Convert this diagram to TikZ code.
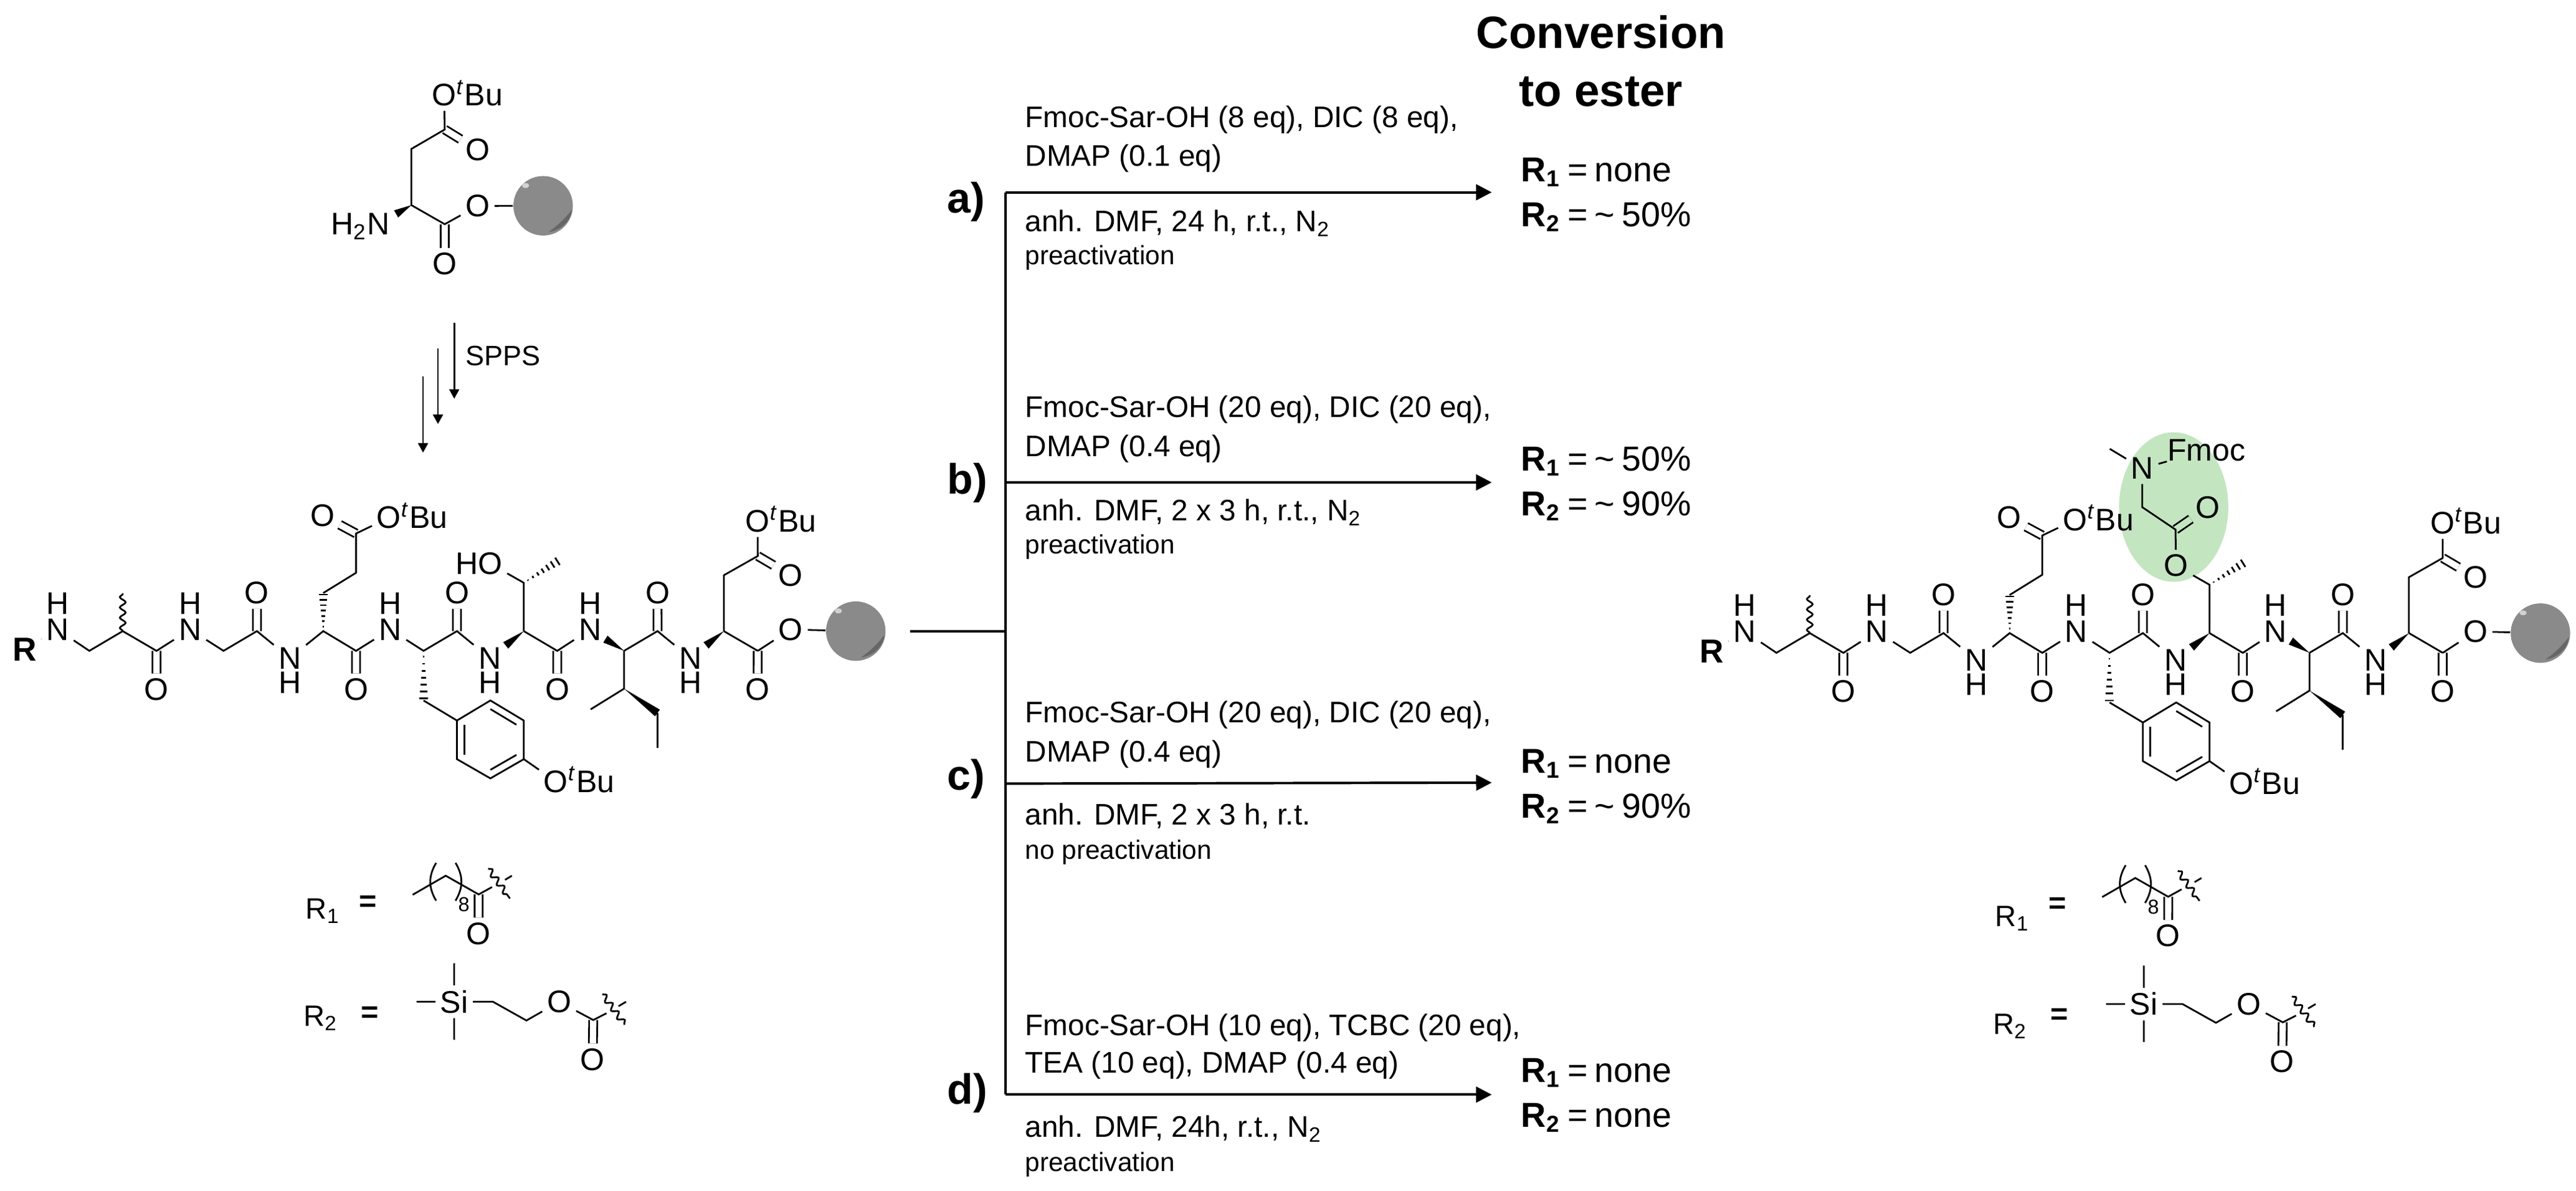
\documentclass[tikz,border=0pt]{standalone}
\usepackage{fontspec}
\setmainfont{Liberation Sans}
\usetikzlibrary{calc}
\usetikzlibrary{arrows.meta}
\usetikzlibrary{decorations.pathmorphing}
\usetikzlibrary{shapes.geometric}
\definecolor{sargreen}{HTML}{C3E6C1}
\definecolor{beadgray}{HTML}{8A8A8A}
\definecolor{beaddark}{HTML}{666666}
\tikzset{
	bond/.style={
		line width=.6pt,
	},
	dbl/.style={
		line width=.6pt,
		double,
		double distance=2.2pt,
	},
	dblgreen/.style={
		dbl,
		double=sargreen,
	},
	wavy/.style={
		bond,
		decorate,
		decoration={snake,amplitude=.35mm,segment length=1.25mm},
	},
	atom/.style={
		inner sep=1.5pt,
		font=\fontsize{10.8}{12}\selectfont,
	},
	resin/.style={
		circle,
		inner sep=0pt,
		minimum size=.724cm,
		fill=beadgray,
	},
	highlight/.style={
		ellipse,
		inner sep=0pt,
		minimum width=1.33cm,
		minimum height=1.82cm,
		fill=sargreen,
	},
	cond/.style={
		anchor=base west,
		inner sep=0pt,
		font=\fontsize{10.3}{12}\selectfont,
	},
	note/.style={
		cond,
		font=\fontsize{9.15}{11}\selectfont,
	},
	yield/.style={
		cond,
		font=\fontsize{12}{14}\selectfont,
	},
	letter/.style={
		cond,
		font=\bfseries\fontsize{14.7}{16}\selectfont,
	},
	heading/.style={
		anchor=base,
		inner sep=0pt,
		font=\bfseries\fontsize{15.7}{18}\selectfont,
	},
	rlabel/.style={
		cond,
		font=\fontsize{10.2}{12}\selectfont,
	},
	rxn/.style={
		line width=.85pt,
		-{Triangle[length=1.9mm,width=1.9mm]},
	},
	spps/.style={
		line width=.6pt,
		-{Triangle[length=1.15mm,width=1.2mm]},
	},
}
\newcommand{\tbu}{\smash{\rlap{\textsuperscript{\textit{t}}Bu}}}
\newcommand{\yld}[2]{\textbf{R\textsubscript{#1}}\hspace{.2em}=\hspace{.2em}#2}
\newcommand{\about}[1]{\textasciitilde\hspace{.2em}#1\%}
\newcommand{\wedgebond}[3]{
	\coordinate (wtmp) at ($(#1)!#3!(#2)$);
	\fill ($(wtmp)!.05cm!90:(#1)$) -- (#1) -- ($(wtmp)!.05cm!-90:(#1)$) -- cycle;
}
\newcommand{\hashbond}[2]{
	\foreach \t in {.12,.26,.4,.54,.68,.82,.96}{
		\draw[bond] ($(#1)!\t!(#2)!\t*.055cm!90:(#2)$) -- ($(#1)!\t!(#2)!\t*.055cm!-90:(#2)$);
	}
}
\newcommand{\bead}[2]{
	\node[resin] (#1) at (#2) {};
	\begin{scope}[shift={(#2)}]
		\fill[gray!35] (-10.7,-12.3) ellipse (2.2 and 1.5);
		\fill[beaddark] (3.2,16) .. controls (9,12) and (13,8) .. (17.5,2.5) .. controls (17,9) and (11,15) .. (3.2,16) -- cycle;
	\end{scope}
}
% #1 is the text of the threonine oxygen
\newcommand{\peptide}[1]{
	\coordinate (c1) at (54.8,396);
	\coordinate (c2) at (75.3,384);
	\coordinate (c3) at (96,396);
	\coordinate (c4) at (137.1,396);
	\coordinate (c5) at (157.6,384);
	\coordinate (c6) at (198.3,384);
	\coordinate (c7) at (218.4,396);
	\coordinate (c8) at (259.8,396);
	\coordinate (c9) at (280.3,384);
	\coordinate (c10) at (321.3,384);
	\coordinate (c11) at (341.8,396);
	\coordinate (c12) at (382.8,396);
	\coordinate (c13) at (403.3,384);
	\coordinate (c14) at (444,384);
	\coordinate (c15) at (464.8,396);

	\node[atom,font=\bfseries\fontsize{11.5}{12}\selectfont] (rest) at (15,395) {R};
	\foreach \i/\x in {1/35.3,2/116.6,4/239.3,6/362}{
		\node[atom] (n\i) at (\x,383) {N};
		\node[atom,inner sep=0pt] (h\i) at (\x,367) {H};
	}
	\foreach \i/\x in {3/177.8,5/300.4,7/423.5}{
		\node[atom] (n\i) at (\x,400.4) {N};
		\node[atom,inner sep=0pt] (h\i) at (\x,415.4) {H};
	}
	% amide carbonyls
	\foreach \i/\x in {3/96,7/218.4,11/341.8,15/464.8}{
		\node[atom] (o\i) at (\x,419.5) {O};
		\draw[dbl] (c\i) -- (o\i);
	}
	\foreach \i/\x in {5/157.6,9/280.3,13/403.3}{
		\node[atom] (o\i) at (\x,360.7) {O};
		\draw[dbl] (c\i) -- (o\i);
	}
	\draw[bond] (rest) -- (n1) -- (c1) -- (c2) -- (c3) -- (n2) -- (c4) -- (c5) -- (n3) -- (c6) -- (c7) -- (n4) -- (c8) -- (c9) -- (n5);
	\draw[bond] (c10) -- (c11) -- (n6);
	\draw[bond] (c12) -- (c13) -- (n7);
	\draw[bond] (c14) -- (c15);
	\wedgebond{c10}{n5}{.53}
	\wedgebond{c12}{n6}{.55}
	\wedgebond{c14}{n7}{.53}

	\coordinate (me1) at (75.3,361);
	\draw[wavy] (c2) -- (me1);

	% Glu
	\coordinate (e1) at (198.3,360.8);
	\coordinate (e2) at (218.4,348.5);
	\coordinate (e3) at (218.4,324.6);
	\node[atom] (eo1) at (197.9,313.7) {O};
	\node[atom] (eo2) at (238.6,315) {O\tbu};
	\hashbond{c6}{e1}
	\draw[dbl] (e3) -- (eo1);
	\draw[bond] (e1) -- (e2) -- (e3) -- (eo2);

	% Tyr
	\coordinate (t1) at (259.8,426.2);
	\coordinate (r1) at (280.3,438.4);
	\coordinate (r2) at (300.8,426.2);
	\coordinate (r3) at (321.3,438.4);
	\coordinate (r4) at (321.3,461.9);
	\coordinate (r5) at (300.8,473.6);
	\coordinate (r6) at (280.3,461.9);
	\coordinate (rc) at (300.8,450);
	\node[atom] (to) at (341,475.5) {O\tbu};
	\hashbond{c8}{t1}
	\draw[bond] (t1) -- (r1) -- (r2) -- (r3) -- (r4) -- (r5) -- (r6) -- (r1);
	\draw[bond] (r4) -- (to);
	\draw[bond] ($(rc)!.78!(r2)$) -- ($(rc)!.78!(r3)$);
	\draw[bond] ($(rc)!.78!(r4)$) -- ($(rc)!.78!(r5)$);
	\draw[bond] ($(rc)!.78!(r6)$) -- ($(rc)!.78!(r1)$);

	% Thr
	\coordinate (th) at (321.3,354.6);
	\coordinate (thme) at (342.8,341);
	\node[atom] (tho) at (300.7,343) {#1};
	\draw[bond] (c10) -- (th) -- (tho);
	\hashbond{th}{thme}

	% Ile
	\coordinate (i1) at (382.8,419);
	\coordinate (i2) at (362.3,431.6);
	\coordinate (i3) at (403.3,433.8);
	\coordinate (i4) at (403.3,455);
	\draw[bond] (c12) -- (i1) -- (i2);
	\draw[bond] (i3) -- (i4);
	\wedgebond{i1}{i3}{1}

	% Asp
	\coordinate (a1) at (444,350);
	\coordinate (a2) at (464.8,338.3);
	\node[atom] (ao1) at (464.8,317) {O\tbu};
	\node[atom] (ao2) at (484.9,350) {O};
	\draw[dbl] (a2) -- (ao2);
	\draw[bond] (c14) -- (a1) -- (a2) -- (ao1);

	\node[atom] (oe) at (485,383) {O};
	\bead{ball}{524.9,384}
	\draw[bond] (c15) -- (oe) -- (ball);
}
\newcommand{\rgroups}{
	\node[rlabel,anchor=center,font=\bfseries\fontsize{10.5}{12}\selectfont] (eq1) at (224.5,549.6) {=};
	\node[rlabel,anchor=center,font=\bfseries\fontsize{10.5}{12}\selectfont] (eq2) at (225.8,617.1) {=};

	% R1
	\coordinate (p1) at (251.9,544.4);
	\coordinate (p2) at (272.2,532.8);
	\coordinate (p3) at (292.4,544.2);
	\coordinate (p4) at (300.6,539.7);
	\node[atom] (po) at (292.4,568) {O};
	\node[atom,font=\fontsize{7}{8}\selectfont,inner sep=0pt] (rep) at (283.3,550.5) {8};
	\draw[dbl] (p3) -- (po);
	\draw[bond] (p1) -- (p2) -- (p3) -- (p4);
	\draw[bond] (266.3,525) .. controls (261.5,533) and (261.5,540) .. (266.3,548);
	\draw[bond] (278.2,525) .. controls (283,533) and (283,540) .. (278.2,548);
	\coordinate (w1) at (298.3,528.4);
	\coordinate (w2) at (311.6,546.7);
	\coordinate (w3) at (308.6,535.3);
	\coordinate (w4) at (312.8,532.8);
	\draw[wavy] (w1) -- (w2);
	\draw[bond] (w3) -- (w4);

	% R2
	\node[atom] (si) at (277.4,609.5) {Si};
	\coordinate (s1) at (277.4,586.1);
	\coordinate (s2) at (277.4,632.6);
	\coordinate (s3) at (254.3,609.5);
	\coordinate (s4) at (301.2,609.5);
	\coordinate (s5) at (321.7,620.9);
	\coordinate (s6) at (362.7,620.6);
	\coordinate (s7) at (370.8,616.5);
	\node[atom] (so1) at (341.8,609.5) {O};
	\node[atom] (so2) at (362.3,644.6) {O};
	\draw[dbl] (s6) -- (so2);
	\draw[bond] (s1) -- (si) -- (s2);
	\draw[bond] (s3) -- (si) -- (s4) -- (s5) -- (so1) -- (s6) -- (s7);
	\coordinate (w5) at (368.3,604.8);
	\coordinate (w6) at (382,623.4);
	\coordinate (w7) at (378.2,612.2);
	\coordinate (w8) at (382.8,609.5);
	\draw[wavy] (w5) -- (w6);
	\draw[bond] (w7) -- (w8);
}

\begin{document}
\begin{tikzpicture}[x=.02cm,y=-.02cm]
	\useasboundingbox (0,0) rectangle (1568,724.3);

	% resin-bound aspartate
	\coordinate (asp1) at (270.7,78.8);
	\coordinate (asp2) at (250.4,90.6);
	\coordinate (asp3) at (250.4,124.8);
	\coordinate (asp4) at (270.7,136.4);
	\node[atom] (aspo1) at (270.4,57.8) {O\tbu};
	\node[atom] (aspo2) at (290.7,91.1) {O};
	\node[atom] (aspo3) at (270.7,160.5) {O};
	\node[atom] (aspo4) at (290.7,125.3) {O};
	\node[atom] (aspn) at (230.2,136.4) {\smash{\llap{H\textsubscript{2}}}N};
	\draw[dbl] (asp1) -- (aspo2);
	\draw[dbl] (asp4) -- (aspo3);
	\draw[bond] (aspo1) -- (asp1) -- (asp2) -- (asp3) -- (asp4) -- (aspo4);
	\wedgebond{asp3}{aspn}{.46}
	\bead{aspball}{330.6,125.2}
	\draw[bond] (aspo4) -- (aspball);

	\foreach \i/\x/\ya/\yb in {1/276.5/196.4/242.6,2/266.6/212/258,3/257.5/228.9/275.4}{
		\coordinate (sppsa\i) at (\x,\ya);
		\coordinate (sppsb\i) at (\x,\yb);
		\draw[spps] (sppsa\i) -- (sppsb\i);
	}
	\node[rlabel,font=\fontsize{9.7}{11}\selectfont] (sppstext) at (283,222.5) {SPPS};

	% left peptide
	\begin{scope}[xscale=.9924,name prefix=l-]
		\peptide{\smash{\llap{H}}O}
	\end{scope}
	\begin{scope}[shift={(1.2,0)},xscale=.9924,name prefix=lr-]
		\rgroups
	\end{scope}
	\node[rlabel] (lr1) at (185.8,559.3) {R\textsubscript{1}};
	\node[rlabel] (lr2) at (184.4,624.4) {R\textsubscript{2}};

	% right peptide
	\node[highlight] (sarbg) at (1323.1,308.5) {};
	\begin{scope}[shift={(1027.1,1.2)},xscale=.9892,name prefix=p-]
		\peptide{O}
	\end{scope}
	\coordinate (sar1) at (1324.2,322.2);
	\coordinate (sar2) at (1304,308.6);
	\coordinate (sar3) at (1284.2,273.1);
	\node[atom] (saro) at (1343.9,308.6) {O};
	\node[atom] (sarn) at (1304,285) {N};
	\node[atom,inner sep=0pt] (fmoc) at (1343,274) {Fmoc};
	\draw[dblgreen] (sar1) -- (saro);
	\draw[bond] (p-tho) -- (sar1) -- (sar2) -- (sarn) -- (sar3);
	\draw[bond] (sarn) -- (fmoc);
	\begin{scope}[shift={(1029.6,1.4)},xscale=.9924,name prefix=q-]
		\rgroups
	\end{scope}
	\node[rlabel] (rr1) at (1214.2,563.7) {R\textsubscript{1}};
	\node[rlabel] (rr2) at (1212.8,629.4) {R\textsubscript{2}};

	% reaction fork
	\coordinate (start) at (554,384);
	\coordinate (fork) at (612,384);
	\coordinate (forka) at (612,117);
	\coordinate (forkb) at (612,293.5);
	\coordinate (forkc) at (612,476.8);
	\coordinate (forkd) at (612,666);
	\coordinate (enda) at (908,117);
	\coordinate (endb) at (908,293.5);
	\coordinate (endc) at (908,476.2);
	\coordinate (endd) at (908,666);
	\draw[line width=.85pt] (start) -- (fork);
	\draw[line width=.85pt] (forka) -- (forkd);
	\draw[rxn] (forka) -- (enda);
	\draw[rxn] (forkb) -- (endb);
	\draw[rxn] (forkc) -- (endc);
	\draw[rxn] (forkd) -- (endd);

	\node[heading] (title1) at (974.5,29.3) {Conversion};
	\node[heading] (title2) at (974.5,64.5) {to ester};

	\node[letter] (la) at (576.4,129.6) {a)};
	\node[cond] (a1text) at (623.7,77.7) {Fmoc-Sar-OH (8 eq), DIC (8 eq),};
	\node[cond] (a2text) at (623.7,101.1) {DMAP (0.1 eq)};
	\node[cond] (a3text) at (623.7,141) {anh. DMF, 24 h, r.t., N\textsubscript{2}};
	\node[note] (a4text) at (623.7,160.8) {preactivation};
	\node[yield] (ya1) at (925.6,110.4) {\yld{1}{none}};
	\node[yield] (ya2) at (925.6,137.8) {\yld{2}{\about{50}}};

	\node[letter] (lb) at (576.4,300.6) {b)};
	\node[cond] (b1text) at (623.7,253.7) {Fmoc-Sar-OH (20 eq), DIC (20 eq),};
	\node[cond] (b2text) at (623.7,277.7) {DMAP (0.4 eq)};
	\node[cond] (b3text) at (623.7,317) {anh. DMF, 2 x 3 h, r.t., N\textsubscript{2}};
	\node[note] (b4text) at (623.7,336.8) {preactivation};
	\node[yield] (yb1) at (925.6,286.4) {\yld{1}{\about{50}}};
	\node[yield] (yb2) at (925.6,313.8) {\yld{2}{\about{90}}};

	\node[letter] (lc) at (576.4,480.6) {c)};
	\node[cond] (c1text) at (623.7,439.7) {Fmoc-Sar-OH (20 eq), DIC (20 eq),};
	\node[cond] (c2text) at (623.7,463.7) {DMAP (0.4 eq)};
	\node[cond] (c3text) at (623.7,502) {anh. DMF, 2 x 3 h, r.t.};
	\node[note] (c4text) at (623.7,522.8) {no preactivation};
	\node[yield] (yc1) at (925.6,470.4) {\yld{1}{none}};
	\node[yield] (yc2) at (925.6,497.8) {\yld{2}{\about{90}}};

	\node[letter] (ld) at (576.4,671.6) {d)};
	\node[cond] (d1text) at (623.7,629.9) {Fmoc-Sar-OH (10 eq), TCBC (20 eq),};
	\node[cond] (d2text) at (623.7,652.9) {TEA (10 eq), DMAP (0.4 eq)};
	\node[cond] (d3text) at (623.7,692) {anh. DMF, 24h, r.t., N\textsubscript{2}};
	\node[note] (d4text) at (623.7,712.7) {preactivation};
	\node[yield] (yd1) at (925.6,658.4) {\yld{1}{none}};
	\node[yield] (yd2) at (925.6,685.8) {\yld{2}{none}};
\end{tikzpicture}
\end{document}
